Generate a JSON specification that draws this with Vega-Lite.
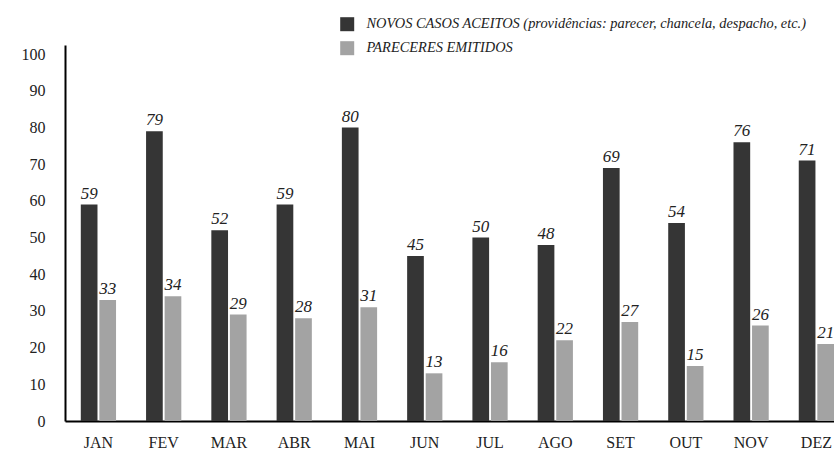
{
  "$schema": "https://vega.github.io/schema/vega-lite/v6.json",
  "autosize": {"type": "none"},
  "padding": {"left": 65, "top": 45, "right": 0, "bottom": 30},
  "width": 769,
  "height": 376,
  "background": "white",
  "config": {
    "view": {"stroke": null},
    "font": "Times New Roman, Liberation Serif, serif"
  },
  "data": {
    "values": [
      {"mes": "JAN", "serie": "NOVOS CASOS ACEITOS (providências: parecer, chancela, despacho, etc.)", "valor": 59},
      {"mes": "JAN", "serie": "PARECERES EMITIDOS", "valor": 33},
      {"mes": "FEV", "serie": "NOVOS CASOS ACEITOS (providências: parecer, chancela, despacho, etc.)", "valor": 79},
      {"mes": "FEV", "serie": "PARECERES EMITIDOS", "valor": 34},
      {"mes": "MAR", "serie": "NOVOS CASOS ACEITOS (providências: parecer, chancela, despacho, etc.)", "valor": 52},
      {"mes": "MAR", "serie": "PARECERES EMITIDOS", "valor": 29},
      {"mes": "ABR", "serie": "NOVOS CASOS ACEITOS (providências: parecer, chancela, despacho, etc.)", "valor": 59},
      {"mes": "ABR", "serie": "PARECERES EMITIDOS", "valor": 28},
      {"mes": "MAI", "serie": "NOVOS CASOS ACEITOS (providências: parecer, chancela, despacho, etc.)", "valor": 80},
      {"mes": "MAI", "serie": "PARECERES EMITIDOS", "valor": 31},
      {"mes": "JUN", "serie": "NOVOS CASOS ACEITOS (providências: parecer, chancela, despacho, etc.)", "valor": 45},
      {"mes": "JUN", "serie": "PARECERES EMITIDOS", "valor": 13},
      {"mes": "JUL", "serie": "NOVOS CASOS ACEITOS (providências: parecer, chancela, despacho, etc.)", "valor": 50},
      {"mes": "JUL", "serie": "PARECERES EMITIDOS", "valor": 16},
      {"mes": "AGO", "serie": "NOVOS CASOS ACEITOS (providências: parecer, chancela, despacho, etc.)", "valor": 48},
      {"mes": "AGO", "serie": "PARECERES EMITIDOS", "valor": 22},
      {"mes": "SET", "serie": "NOVOS CASOS ACEITOS (providências: parecer, chancela, despacho, etc.)", "valor": 69},
      {"mes": "SET", "serie": "PARECERES EMITIDOS", "valor": 27},
      {"mes": "OUT", "serie": "NOVOS CASOS ACEITOS (providências: parecer, chancela, despacho, etc.)", "valor": 54},
      {"mes": "OUT", "serie": "PARECERES EMITIDOS", "valor": 15},
      {"mes": "NOV", "serie": "NOVOS CASOS ACEITOS (providências: parecer, chancela, despacho, etc.)", "valor": 76},
      {"mes": "NOV", "serie": "PARECERES EMITIDOS", "valor": 26},
      {"mes": "DEZ", "serie": "NOVOS CASOS ACEITOS (providências: parecer, chancela, despacho, etc.)", "valor": 71},
      {"mes": "DEZ", "serie": "PARECERES EMITIDOS", "valor": 21}
    ]
  },
  "encoding": {
    "x": {
      "field": "mes",
      "type": "nominal",
      "sort": null,
      "scale": {"paddingInner": 0.46, "paddingOuter": 0.121, "align": 1},
      "axis": {
        "title": null,
        "labelAngle": 0,
        "ticks": false,
        "labelPadding": 13,
        "labelFont": "Times New Roman, Liberation Serif, serif",
        "labelFontSize": 16,
        "labelColor": "#222222",
        "domainColor": "#000000",
        "domainWidth": 2,
        "grid": false
      }
    },
    "xOffset": {
      "field": "serie",
      "type": "nominal",
      "sort": ["NOVOS CASOS ACEITOS (providências: parecer, chancela, despacho, etc.)", "PARECERES EMITIDOS"],
      "scale": {"paddingInner": 0.1, "paddingOuter": 0}
    },
    "y": {
      "field": "valor",
      "type": "quantitative",
      "scale": {"domain": [0, 102.5], "nice": false},
      "axis": {
        "title": null,
        "values": [0, 10, 20, 30, 40, 50, 60, 70, 80, 90, 100],
        "ticks": false,
        "grid": false,
        "labelPadding": 20,
        "labelFont": "Times New Roman, Liberation Serif, serif",
        "labelFontSize": 16,
        "labelColor": "#222222",
        "domainColor": "#000000",
        "domainWidth": 2
      }
    }
  },
  "layer": [
    {
      "mark": {"type": "bar"},
      "encoding": {
        "color": {
          "field": "serie",
          "type": "nominal",
          "sort": ["NOVOS CASOS ACEITOS (providências: parecer, chancela, despacho, etc.)", "PARECERES EMITIDOS"],
          "scale": {"range": ["#353535", "#a3a3a3"]},
          "legend": {
            "title": null,
            "orient": "none",
            "legendX": 275,
            "legendY": -28,
            "padding": 0,
            "symbolType": "square",
            "symbolSize": 196,
            "symbolStrokeWidth": 0,
            "symbolOpacity": 1,
            "labelFont": "Times New Roman, Liberation Serif, serif",
            "labelFontSize": 14.4,
            "labelFontStyle": "italic",
            "labelColor": "#222222",
            "labelOffset": 12,
            "rowPadding": 8,
            "labelLimit": 600
          }
        }
      }
    },
    {
      "mark": {"type": "text", "baseline": "bottom", "dy": -2, "font": "Times New Roman, Liberation Serif, serif", "fontSize": 17, "fontStyle": "italic", "color": "#222222"},
      "encoding": {
        "text": {"field": "valor", "type": "quantitative"}
      }
    }
  ]
}
